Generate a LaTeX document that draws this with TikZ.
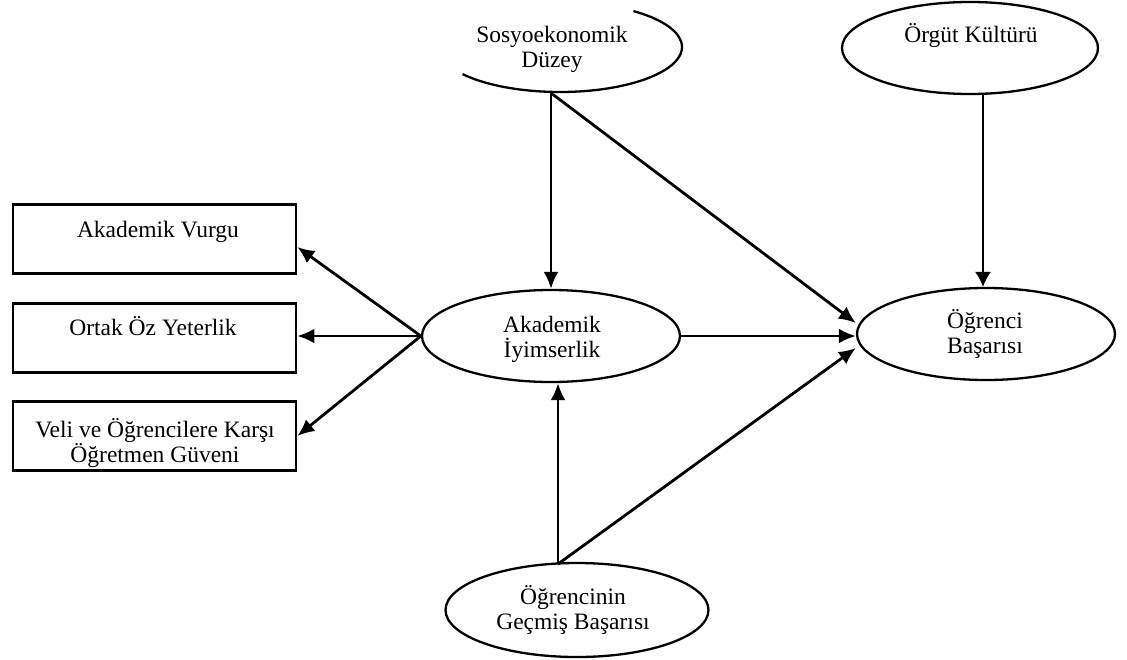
\documentclass[tikz,border=0pt]{standalone}
\usepackage{fontspec}
\setmainfont{Liberation Serif}
\usetikzlibrary{shapes.geometric,arrows.meta}
% fixed first-line height and last-line depth for two-line labels
\newcommand\twolines[2]{\rule{0pt}{22pt}#1\\#2\rule[-6pt]{0pt}{6pt}}
\newcommand\lblfont{\fontsize{23.5}{25.5}\selectfont\lineskiplimit=-20pt\relax}
\begin{document}
\begin{tikzpicture}[x=1pt,y=-1pt,
  ell/.style={draw,line width=2.3pt,ellipse,inner sep=0pt,minimum width=#1},
  box/.style={draw,line width=2.7pt,rectangle,inner sep=0pt,minimum width=283pt,minimum height=69pt},
  lbl/.style={font=\lblfont,inner sep=0pt,align=center},
  conn/.style={line width=2.8pt,-{Latex[length=17pt,width=15pt]}},
  thinconn/.style={line width=1.4pt,-{Latex[length=15pt,width=16pt]}}]
\useasboundingbox (0,0) rectangle (1127,659);

% latent constructs
\node[ell=258pt,minimum height=92pt] (akiy) at (551,336) {};
\node[ell=258pt,minimum height=92pt] (ogb) at (986,334) {};
\node[ell=256pt,minimum height=92pt] (ork) at (970,48) {};
\node[ell=263pt,minimum height=94pt] (ogg) at (577,610) {};
% socioeconomic level: open arc
\draw[line width=2.3pt] (560,47) ++(143:122 and 45)
  arc[start angle=143,end angle=-53,x radius=122,y radius=45];
\coordinate (soc) at (551,93);
\coordinate (ggtop) at (558,564);

% indicator boxes
\node[box] (av) at (154.5,239) {};
\node[box] (ooy) at (154.5,338) {};
\node[box] (vog) at (154.5,436) {};

% labels
\node[lbl,anchor=center] (t-soc) at (552,46.75) {\twolines{Sosyoekonomik}{Düzey}};
\node[lbl,anchor=base] (t-ork) at (971,42) {Örgüt Kültürü};
\node[lbl,anchor=center] (t-akiy) at (552,336.75) {\twolines{Akademik}{İyimserlik}};
\node[lbl,anchor=center] (t-ogb) at (985,332.75) {\twolines{Öğrenci}{Başarısı}};
\node[lbl,anchor=center] (t-ogg) at (573,608.75) {\twolines{Öğrencinin}{Geçmiş Başarısı}};
\node[lbl,anchor=base] (t-av) at (158,237) {Akademik Vurgu};
\node[lbl,anchor=base] (t-ooy) at (153,335) {Ortak Öz Yeterlik};
\node[lbl,anchor=center] (t-vog) at (155,441.75) {\twolines{Veli ve Öğrencilere Karşı}{Öğretmen Güveni}};

% paths
\draw[conn] (soc) -- (soc |- akiy.north);
\draw[conn] (soc) -- ([yshift=11pt]ogb.west);
\draw[thinconn] ([xshift=13pt]ork.south) -- ([xshift=-3pt]ogb.north);
\draw[conn] (akiy.east) -- (akiy.east -| ogb.west);
\draw[conn] (ggtop) -- (ggtop |- akiy.south);
\draw[conn] (ggtop) -- ([yshift=-14pt]ogb.west);
\draw[conn] (akiy.west) -- ([yshift=-8pt]av.east);
\draw[conn] (akiy.west) -- (akiy.west -| ooy.east);
\draw[conn] (akiy.west) -- (vog.east);
\end{tikzpicture}
\end{document}
